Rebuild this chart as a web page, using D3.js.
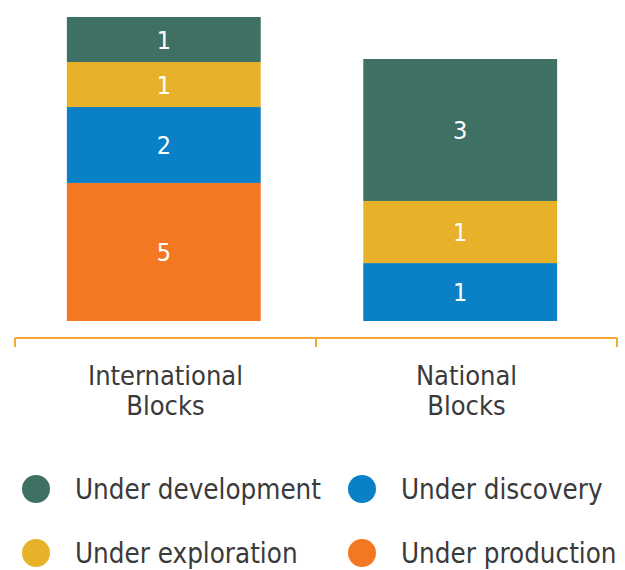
<!DOCTYPE html>
<html>
<head>
<meta charset="utf-8">
<script src="https://cdn.jsdelivr.net/npm/d3@7"></script>
<style>
  html, body { margin: 0; padding: 0; background: #ffffff; }
  svg { display: block; }
  text { font-family: "DejaVu Sans Condensed", "DejaVu Sans", sans-serif; }
</style>
</head>
<body>
<svg id="chart" width="625" height="570"></svg>
<script>
// ---- data ----
const categories = ["International Blocks", "National Blocks"];
const categoryLines = [["International", "Blocks"], ["National", "Blocks"]];
const statuses = ["Under production", "Under discovery", "Under exploration", "Under development"]; // stacking order bottom -> top
const legendOrder = ["Under development", "Under discovery", "Under exploration", "Under production"];
const colors = ["#f47721", "#0a80c6", "#e8b12a", "#3e7163"];
// counts printed on the segments
const productionCounts  = [5, 0];
const discoveryCounts   = [2, 1];
const explorationCounts = [1, 1];
const developmentCounts = [1, 3];
// drawn segment sizes as they appear in the picture (not proportional to counts)
const productionSizes  = [4.6, 0];
const discoverySizes   = [2.53, 1.93];
const explorationSizes = [1.5, 2.07];
const developmentSizes = [1.5, 4.73];

// ---- build table ----
const countSeries = [productionCounts, discoveryCounts, explorationCounts, developmentCounts];
const sizeSeries = [productionSizes, discoverySizes, explorationSizes, developmentSizes];
const table = categories.map((c, i) => {
  const row = { category: c };
  statuses.forEach((s, j) => { row[s] = sizeSeries[j][i]; row[s + "_n"] = countSeries[j][i]; });
  return row;
});
const stacked = d3.stack().keys(statuses)(table);

const svg = d3.select("#chart");
const color = d3.scaleOrdinal().domain(statuses).range(colors);

const x = d3.scaleBand().domain(categories).range([15, 609]).paddingInner(0.346).paddingOuter(0.175);
const xAxisBand = d3.scaleBand().domain(categories).range([15, 617]).padding(0);
const y = d3.scaleLinear().domain([0, 10.13]).range([321, 17]);

// bars
const layers = svg.append("g").selectAll("g").data(stacked).join("g")
  .attr("fill", d => color(d.key));
layers.selectAll("rect").data(d => d.map(v => ({ key: d.key, v })))
  .join("rect")
  .filter(d => d.v[1] - d.v[0] > 0)
  .attr("x", d => x(d.v.data.category))
  .attr("width", x.bandwidth())
  .attr("y", d => y(d.v[1]))
  .attr("height", d => y(d.v[0]) - y(d.v[1]));

// value labels
layers.selectAll("text").data(d => d.map(v => ({ key: d.key, v })).filter(d => d.v[1] - d.v[0] > 0))
  .join("text")
  .attr("x", d => x(d.v.data.category) + x.bandwidth() / 2)
  .attr("y", d => (y(d.v[0]) + y(d.v[1])) / 2)
  .attr("dy", "0.36em")
  .attr("text-anchor", "middle")
  .attr("fill", "#ffffff")
  .attr("font-size", 25)
  .text(d => d.v.data[d.key + "_n"]);

// bracket axis
const axisY = 338;
const axisColor = "#f5a733";
const ag = svg.append("g").attr("stroke", axisColor).attr("stroke-width", 2).attr("fill", "none");
const [r0, r1] = xAxisBand.range();
ag.append("line").attr("x1", r0).attr("x2", r1).attr("y1", axisY).attr("y2", axisY);
const tickXs = [r0].concat(categories.map(c => xAxisBand(c) + xAxisBand.bandwidth()));
ag.selectAll("line.tick").data(tickXs).join("line").attr("class", "tick")
  .attr("x1", d => d).attr("x2", d => d).attr("y1", axisY).attr("y2", axisY + 9);

// category labels (two lines each)
const labelData = [];
categories.forEach((c, i) => categoryLines[i].forEach((t, j) => labelData.push({ c, t, j })));
svg.append("g").selectAll("text").data(labelData).join("text")
  .attr("x", d => xAxisBand(d.c) + xAxisBand.bandwidth() / 2)
  .attr("y", d => 385 + d.j * 30)
  .attr("text-anchor", "middle")
  .attr("fill", "#3a3a3a")
  .attr("font-size", 27)
  .text(d => d.t);

// legend
const legendX = [36, 362];
const legendY = [489, 553];
const lg = svg.append("g").selectAll("g").data(legendOrder).join("g")
  .attr("transform", (d, i) => `translate(${legendX[i % 2]},${legendY[Math.floor(i / 2)]})`);
lg.append("circle").attr("r", 14).attr("fill", d => color(d));
lg.append("text").attr("x", 39).attr("dy", "0.36em")
  .attr("fill", "#3a3a3a").attr("font-size", 27.5).text(d => d);
</script>
</body>
</html>
